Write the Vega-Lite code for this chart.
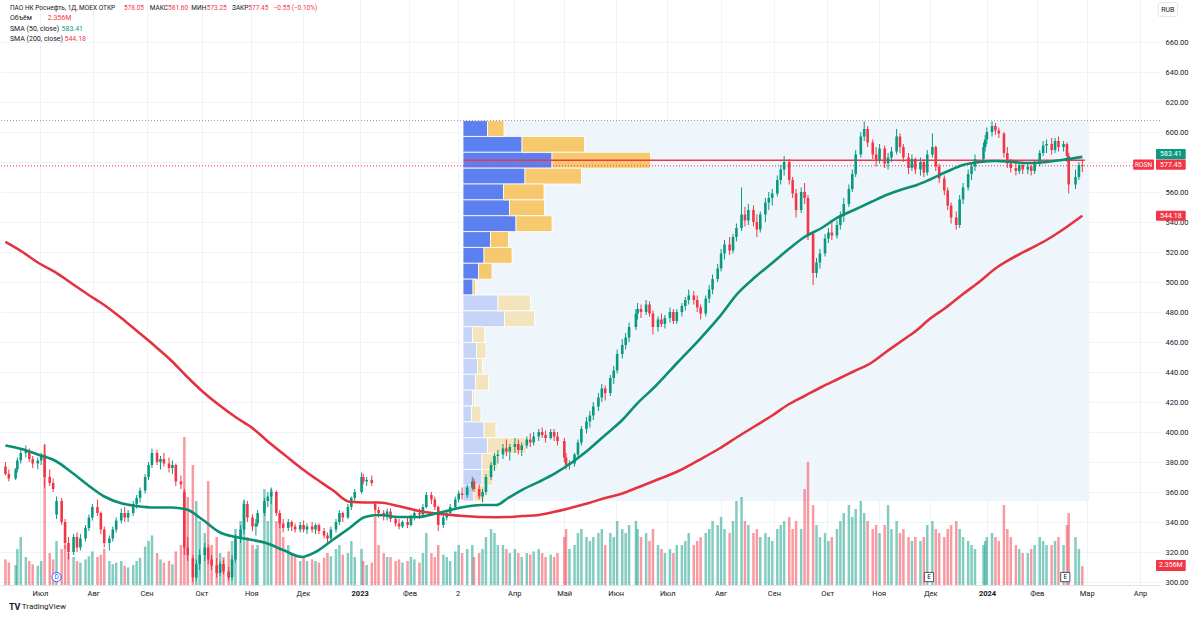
{
"$schema":"https://vega.github.io/schema/vega-lite/v6.json",
"width":1160,"height":585,
"autosize":"none",
"padding":{"left":0,"top":0,"right":40,"bottom":36},
"background":"#ffffff",
"config":{"view":{"stroke":null},"font":"Roboto","text":{"font":"Roboto"}},
"datasets":{
"candles":[
{"d":"2022-06-08","o":377,"h":380,"l":371,"c":372,"v":3.2},
{"d":"2022-06-10","o":372,"h":375,"l":367,"c":369,"v":2.8},
{"d":"2022-06-14","o":369,"h":376,"l":368,"c":375,"v":2.5},
{"d":"2022-06-15","o":375,"h":383,"l":373,"c":381,"v":4.5},
{"d":"2022-06-17","o":381,"h":389,"l":379,"c":386,"v":6.0},
{"d":"2022-06-20","o":386,"h":391,"l":383,"c":388,"v":3.5},
{"d":"2022-06-22","o":388,"h":389,"l":380,"c":382,"v":3.0},
{"d":"2022-06-24","o":382,"h":384,"l":376,"c":379,"v":2.6},
{"d":"2022-06-27","o":379,"h":383,"l":375,"c":381,"v":2.4},
{"d":"2022-06-29","o":381,"h":386,"l":378,"c":384,"v":3.0},
{"d":"2022-07-01","o":385,"h":392,"l":363,"c":370,"v":17.5},
{"d":"2022-07-04","o":370,"h":375,"l":364,"c":366,"v":4.0},
{"d":"2022-07-06","o":366,"h":369,"l":360,"c":362,"v":3.2},
{"d":"2022-07-08","o":345,"h":357,"l":342,"c":354,"v":5.5},
{"d":"2022-07-11","o":354,"h":356,"l":338,"c":340,"v":4.5},
{"d":"2022-07-13","o":340,"h":342,"l":322,"c":326,"v":5.0},
{"d":"2022-07-15","o":326,"h":330,"l":315,"c":320,"v":4.0},
{"d":"2022-07-18","o":320,"h":332,"l":318,"c":330,"v":3.5},
{"d":"2022-07-20","o":330,"h":333,"l":320,"c":323,"v":3.0},
{"d":"2022-07-22","o":323,"h":332,"l":321,"c":329,"v":2.8},
{"d":"2022-07-25","o":329,"h":338,"l":327,"c":336,"v":3.2},
{"d":"2022-07-27","o":336,"h":345,"l":334,"c":343,"v":3.6},
{"d":"2022-07-29","o":343,"h":352,"l":341,"c":350,"v":4.2},
{"d":"2022-08-01","o":350,"h":355,"l":344,"c":346,"v":3.5},
{"d":"2022-08-03","o":346,"h":347,"l":332,"c":335,"v":3.8},
{"d":"2022-08-05","o":335,"h":337,"l":323,"c":326,"v":4.5},
{"d":"2022-08-08","o":326,"h":331,"l":321,"c":329,"v":3.0},
{"d":"2022-08-10","o":329,"h":337,"l":327,"c":335,"v":2.6},
{"d":"2022-08-12","o":335,"h":343,"l":333,"c":341,"v":2.8},
{"d":"2022-08-15","o":341,"h":349,"l":339,"c":346,"v":3.0},
{"d":"2022-08-17","o":346,"h":350,"l":340,"c":343,"v":2.4},
{"d":"2022-08-19","o":343,"h":348,"l":340,"c":346,"v":2.2},
{"d":"2022-08-22","o":346,"h":354,"l":344,"c":352,"v":2.5},
{"d":"2022-08-24","o":352,"h":358,"l":349,"c":356,"v":3.0},
{"d":"2022-08-26","o":356,"h":363,"l":353,"c":361,"v":3.4},
{"d":"2022-08-29","o":361,"h":372,"l":359,"c":370,"v":4.8},
{"d":"2022-08-31","o":370,"h":380,"l":368,"c":378,"v":5.5},
{"d":"2022-09-02","o":378,"h":389,"l":376,"c":386,"v":6.2},
{"d":"2022-09-05","o":386,"h":388,"l":378,"c":380,"v":4.0},
{"d":"2022-09-07","o":380,"h":384,"l":375,"c":382,"v":3.2},
{"d":"2022-09-09","o":382,"h":386,"l":377,"c":379,"v":2.8},
{"d":"2022-09-12","o":379,"h":383,"l":373,"c":376,"v":3.0},
{"d":"2022-09-14","o":376,"h":381,"l":372,"c":378,"v":2.6},
{"d":"2022-09-16","o":378,"h":379,"l":364,"c":367,"v":4.2},
{"d":"2022-09-19","o":367,"h":371,"l":362,"c":365,"v":5.0},
{"d":"2022-09-21","o":360,"h":362,"l":318,"c":323,"v":18.5},
{"d":"2022-09-23","o":323,"h":330,"l":314,"c":318,"v":11.0},
{"d":"2022-09-26","o":316,"h":318,"l":300,"c":303,"v":15.0},
{"d":"2022-09-28","o":303,"h":315,"l":301,"c":312,"v":10.5},
{"d":"2022-09-30","o":312,"h":322,"l":308,"c":318,"v":8.0},
{"d":"2022-10-03","o":318,"h":326,"l":314,"c":323,"v":6.5},
{"d":"2022-10-05","o":323,"h":325,"l":312,"c":315,"v":13.0},
{"d":"2022-10-07","o":315,"h":318,"l":308,"c":311,"v":5.0},
{"d":"2022-10-10","o":311,"h":316,"l":303,"c":306,"v":6.0},
{"d":"2022-10-12","o":306,"h":314,"l":304,"c":312,"v":4.0},
{"d":"2022-10-14","o":312,"h":315,"l":305,"c":307,"v":3.5},
{"d":"2022-10-17","o":307,"h":310,"l":301,"c":303,"v":4.2},
{"d":"2022-10-19","o":303,"h":318,"l":301,"c":315,"v":5.5},
{"d":"2022-10-21","o":315,"h":332,"l":313,"c":329,"v":7.0},
{"d":"2022-10-24","o":329,"h":338,"l":326,"c":335,"v":8.0},
{"d":"2022-10-26","o":335,"h":355,"l":332,"c":352,"v":10.5},
{"d":"2022-10-28","o":352,"h":354,"l":340,"c":343,"v":6.0},
{"d":"2022-10-31","o":343,"h":345,"l":334,"c":337,"v":5.0},
{"d":"2022-11-02","o":337,"h":342,"l":331,"c":339,"v":4.5},
{"d":"2022-11-03","o":339,"h":348,"l":337,"c":346,"v":5.0},
{"d":"2022-11-07","o":346,"h":356,"l":344,"c":354,"v":12.0},
{"d":"2022-11-09","o":354,"h":360,"l":350,"c":357,"v":8.0},
{"d":"2022-11-11","o":357,"h":363,"l":352,"c":360,"v":12.0},
{"d":"2022-11-14","o":360,"h":361,"l":344,"c":346,"v":8.0},
{"d":"2022-11-16","o":346,"h":348,"l":336,"c":339,"v":9.0},
{"d":"2022-11-18","o":339,"h":342,"l":333,"c":336,"v":6.0},
{"d":"2022-11-21","o":336,"h":342,"l":334,"c":340,"v":5.0},
{"d":"2022-11-23","o":340,"h":341,"l":334,"c":337,"v":4.0},
{"d":"2022-11-25","o":337,"h":339,"l":333,"c":335,"v":3.5},
{"d":"2022-11-28","o":335,"h":340,"l":333,"c":338,"v":3.0},
{"d":"2022-11-30","o":338,"h":341,"l":333,"c":335,"v":3.6},
{"d":"2022-12-02","o":335,"h":339,"l":332,"c":337,"v":3.0},
{"d":"2022-12-05","o":337,"h":340,"l":333,"c":335,"v":3.2},
{"d":"2022-12-07","o":335,"h":339,"l":332,"c":338,"v":3.0},
{"d":"2022-12-09","o":338,"h":339,"l":332,"c":334,"v":2.8},
{"d":"2022-12-12","o":334,"h":336,"l":329,"c":331,"v":3.4},
{"d":"2022-12-14","o":331,"h":333,"l":326,"c":329,"v":4.0},
{"d":"2022-12-16","o":329,"h":337,"l":327,"c":335,"v":3.6},
{"d":"2022-12-19","o":335,"h":342,"l":333,"c":340,"v":4.5},
{"d":"2022-12-21","o":340,"h":348,"l":338,"c":346,"v":5.0},
{"d":"2022-12-23","o":346,"h":347,"l":340,"c":343,"v":3.8},
{"d":"2022-12-26","o":343,"h":352,"l":342,"c":350,"v":4.0},
{"d":"2022-12-28","o":350,"h":357,"l":348,"c":356,"v":5.5},
{"d":"2022-12-30","o":356,"h":362,"l":354,"c":360,"v":3.5},
{"d":"2023-01-03","o":360,"h":373,"l":359,"c":370,"v":4.5},
{"d":"2023-01-04","o":370,"h":372,"l":365,"c":367,"v":3.0},
{"d":"2023-01-06","o":367,"h":370,"l":364,"c":368,"v":2.5},
{"d":"2023-01-09","o":368,"h":371,"l":364,"c":366,"v":2.8},
{"d":"2023-01-11","o":352,"h":353,"l":345,"c":348,"v":8.5},
{"d":"2023-01-13","o":348,"h":350,"l":343,"c":346,"v":5.0},
{"d":"2023-01-16","o":346,"h":348,"l":341,"c":344,"v":4.0},
{"d":"2023-01-18","o":344,"h":349,"l":341,"c":347,"v":3.5},
{"d":"2023-01-20","o":347,"h":349,"l":340,"c":342,"v":3.5},
{"d":"2023-01-23","o":342,"h":344,"l":337,"c":339,"v":3.0},
{"d":"2023-01-25","o":339,"h":342,"l":335,"c":337,"v":3.2},
{"d":"2023-01-27","o":337,"h":341,"l":336,"c":340,"v":2.8},
{"d":"2023-01-30","o":340,"h":343,"l":336,"c":338,"v":3.0},
{"d":"2023-02-01","o":338,"h":345,"l":337,"c":343,"v":3.5},
{"d":"2023-02-03","o":343,"h":348,"l":341,"c":346,"v":3.2},
{"d":"2023-02-06","o":346,"h":349,"l":342,"c":345,"v":2.8},
{"d":"2023-02-08","o":345,"h":352,"l":344,"c":350,"v":4.0},
{"d":"2023-02-10","o":350,"h":360,"l":349,"c":358,"v":6.5},
{"d":"2023-02-13","o":358,"h":360,"l":352,"c":355,"v":4.0},
{"d":"2023-02-15","o":355,"h":357,"l":348,"c":350,"v":3.5},
{"d":"2023-02-17","o":350,"h":351,"l":334,"c":338,"v":5.0},
{"d":"2023-02-20","o":338,"h":345,"l":336,"c":343,"v":3.8},
{"d":"2023-02-22","o":343,"h":348,"l":341,"c":346,"v":3.5},
{"d":"2023-02-24","o":346,"h":352,"l":344,"c":350,"v":3.0},
{"d":"2023-02-27","o":350,"h":357,"l":348,"c":355,"v":4.2},
{"d":"2023-03-01","o":355,"h":361,"l":353,"c":359,"v":5.0},
{"d":"2023-03-03","o":359,"h":363,"l":355,"c":358,"v":4.0},
{"d":"2023-03-06","o":358,"h":365,"l":356,"c":363,"v":4.5},
{"d":"2023-03-09","o":363,"h":370,"l":361,"c":367,"v":5.0},
{"d":"2023-03-10","o":367,"h":369,"l":360,"c":362,"v":3.5},
{"d":"2023-03-13","o":362,"h":365,"l":355,"c":357,"v":4.0},
{"d":"2023-03-15","o":357,"h":362,"l":353,"c":360,"v":4.5},
{"d":"2023-03-17","o":360,"h":372,"l":358,"c":370,"v":6.0},
{"d":"2023-03-20","o":370,"h":380,"l":368,"c":378,"v":7.0},
{"d":"2023-03-22","o":378,"h":386,"l":374,"c":384,"v":6.5},
{"d":"2023-03-24","o":384,"h":388,"l":379,"c":385,"v":5.0},
{"d":"2023-03-27","o":385,"h":392,"l":382,"c":389,"v":5.0},
{"d":"2023-03-29","o":389,"h":395,"l":384,"c":387,"v":4.5},
{"d":"2023-03-31","o":387,"h":392,"l":381,"c":390,"v":4.0},
{"d":"2023-04-03","o":390,"h":396,"l":386,"c":392,"v":4.5},
{"d":"2023-04-05","o":392,"h":395,"l":385,"c":388,"v":4.0},
{"d":"2023-04-07","o":388,"h":393,"l":384,"c":391,"v":3.5},
{"d":"2023-04-10","o":391,"h":397,"l":389,"c":395,"v":4.0},
{"d":"2023-04-12","o":395,"h":399,"l":390,"c":393,"v":3.8},
{"d":"2023-04-14","o":393,"h":400,"l":391,"c":397,"v":4.2},
{"d":"2023-04-17","o":397,"h":402,"l":394,"c":400,"v":4.5},
{"d":"2023-04-19","o":400,"h":403,"l":396,"c":398,"v":4.0},
{"d":"2023-04-21","o":398,"h":401,"l":393,"c":396,"v":3.5},
{"d":"2023-04-24","o":396,"h":402,"l":395,"c":400,"v":3.8},
{"d":"2023-04-26","o":400,"h":402,"l":394,"c":397,"v":3.5},
{"d":"2023-04-28","o":397,"h":400,"l":391,"c":394,"v":4.0},
{"d":"2023-05-02","o":394,"h":396,"l":380,"c":383,"v":6.0},
{"d":"2023-05-03","o":383,"h":386,"l":375,"c":378,"v":7.0},
{"d":"2023-05-05","o":378,"h":381,"l":375,"c":379,"v":4.5},
{"d":"2023-05-08","o":379,"h":386,"l":377,"c":385,"v":5.0},
{"d":"2023-05-10","o":385,"h":395,"l":383,"c":393,"v":6.5},
{"d":"2023-05-12","o":393,"h":404,"l":391,"c":402,"v":7.0},
{"d":"2023-05-15","o":402,"h":410,"l":399,"c":407,"v":6.0},
{"d":"2023-05-17","o":407,"h":414,"l":403,"c":411,"v":5.5},
{"d":"2023-05-19","o":411,"h":420,"l":408,"c":417,"v":6.0},
{"d":"2023-05-22","o":417,"h":426,"l":414,"c":423,"v":6.5},
{"d":"2023-05-24","o":423,"h":432,"l":420,"c":429,"v":7.0},
{"d":"2023-05-26","o":429,"h":431,"l":421,"c":426,"v":5.0},
{"d":"2023-05-29","o":426,"h":438,"l":424,"c":436,"v":6.5},
{"d":"2023-05-31","o":436,"h":444,"l":432,"c":441,"v":6.0},
{"d":"2023-06-02","o":441,"h":455,"l":439,"c":452,"v":8.0},
{"d":"2023-06-05","o":452,"h":462,"l":449,"c":458,"v":7.0},
{"d":"2023-06-07","o":458,"h":466,"l":455,"c":463,"v":6.5},
{"d":"2023-06-09","o":463,"h":473,"l":460,"c":470,"v":7.5},
{"d":"2023-06-13","o":470,"h":482,"l":468,"c":479,"v":8.0},
{"d":"2023-06-14","o":479,"h":486,"l":475,"c":482,"v":7.0},
{"d":"2023-06-16","o":482,"h":485,"l":476,"c":480,"v":6.0},
{"d":"2023-06-19","o":480,"h":488,"l":478,"c":485,"v":6.5},
{"d":"2023-06-21","o":485,"h":487,"l":477,"c":479,"v":5.5},
{"d":"2023-06-23","o":479,"h":481,"l":465,"c":470,"v":7.0},
{"d":"2023-06-26","o":470,"h":477,"l":467,"c":475,"v":5.0},
{"d":"2023-06-28","o":475,"h":479,"l":470,"c":472,"v":4.5},
{"d":"2023-06-30","o":472,"h":478,"l":469,"c":476,"v":4.0},
{"d":"2023-07-03","o":476,"h":483,"l":473,"c":480,"v":4.5},
{"d":"2023-07-05","o":480,"h":482,"l":472,"c":474,"v":4.0},
{"d":"2023-07-07","o":474,"h":482,"l":472,"c":480,"v":5.0},
{"d":"2023-07-10","o":480,"h":486,"l":477,"c":484,"v":5.0},
{"d":"2023-07-12","o":484,"h":490,"l":481,"c":488,"v":5.5},
{"d":"2023-07-14","o":488,"h":495,"l":485,"c":491,"v":6.5},
{"d":"2023-07-17","o":491,"h":494,"l":485,"c":488,"v":5.0},
{"d":"2023-07-19","o":488,"h":491,"l":480,"c":483,"v":5.5},
{"d":"2023-07-21","o":483,"h":485,"l":475,"c":479,"v":6.0},
{"d":"2023-07-24","o":479,"h":491,"l":477,"c":489,"v":6.5},
{"d":"2023-07-26","o":489,"h":498,"l":486,"c":495,"v":7.0},
{"d":"2023-07-28","o":495,"h":505,"l":492,"c":502,"v":8.0},
{"d":"2023-07-31","o":502,"h":512,"l":500,"c":509,"v":7.5},
{"d":"2023-08-02","o":509,"h":522,"l":507,"c":519,"v":8.5},
{"d":"2023-08-04","o":519,"h":528,"l":515,"c":525,"v":7.0},
{"d":"2023-08-07","o":525,"h":530,"l":518,"c":521,"v":6.5},
{"d":"2023-08-09","o":521,"h":532,"l":519,"c":530,"v":8.0},
{"d":"2023-08-11","o":530,"h":539,"l":527,"c":536,"v":10.5},
{"d":"2023-08-14","o":536,"h":563,"l":534,"c":545,"v":11.0},
{"d":"2023-08-16","o":545,"h":550,"l":537,"c":541,"v":8.0},
{"d":"2023-08-18","o":541,"h":552,"l":538,"c":548,"v":7.5},
{"d":"2023-08-21","o":548,"h":551,"l":537,"c":540,"v":6.5},
{"d":"2023-08-23","o":540,"h":545,"l":530,"c":535,"v":7.0},
{"d":"2023-08-25","o":535,"h":547,"l":533,"c":545,"v":6.0},
{"d":"2023-08-28","o":545,"h":556,"l":540,"c":553,"v":6.5},
{"d":"2023-08-30","o":553,"h":560,"l":548,"c":556,"v":6.0},
{"d":"2023-09-01","o":556,"h":562,"l":551,"c":559,"v":5.5},
{"d":"2023-09-04","o":559,"h":571,"l":557,"c":568,"v":7.0},
{"d":"2023-09-06","o":568,"h":578,"l":565,"c":575,"v":7.5},
{"d":"2023-09-08","o":575,"h":584,"l":571,"c":580,"v":8.0},
{"d":"2023-09-11","o":580,"h":582,"l":565,"c":568,"v":8.5},
{"d":"2023-09-13","o":568,"h":570,"l":556,"c":559,"v":7.0},
{"d":"2023-09-15","o":559,"h":562,"l":543,"c":548,"v":8.0},
{"d":"2023-09-18","o":548,"h":563,"l":546,"c":560,"v":7.0},
{"d":"2023-09-20","o":560,"h":566,"l":552,"c":556,"v":12.0},
{"d":"2023-09-22","o":556,"h":558,"l":528,"c":532,"v":15.4},
{"d":"2023-09-25","o":532,"h":534,"l":498,"c":506,"v":10.0},
{"d":"2023-09-27","o":506,"h":516,"l":503,"c":513,"v":7.5},
{"d":"2023-09-29","o":513,"h":522,"l":509,"c":519,"v":6.0},
{"d":"2023-10-02","o":519,"h":532,"l":517,"c":529,"v":6.5},
{"d":"2023-10-04","o":529,"h":536,"l":526,"c":533,"v":5.5},
{"d":"2023-10-06","o":533,"h":540,"l":528,"c":531,"v":6.0},
{"d":"2023-10-09","o":531,"h":541,"l":529,"c":538,"v":7.0},
{"d":"2023-10-11","o":538,"h":547,"l":535,"c":544,"v":8.0},
{"d":"2023-10-13","o":544,"h":556,"l":540,"c":552,"v":9.0},
{"d":"2023-10-16","o":552,"h":565,"l":550,"c":562,"v":10.0},
{"d":"2023-10-18","o":562,"h":575,"l":560,"c":572,"v":8.5},
{"d":"2023-10-20","o":572,"h":588,"l":570,"c":585,"v":9.5},
{"d":"2023-10-23","o":585,"h":600,"l":583,"c":597,"v":10.5},
{"d":"2023-10-25","o":597,"h":607,"l":594,"c":602,"v":9.0},
{"d":"2023-10-27","o":602,"h":604,"l":590,"c":593,"v":8.0},
{"d":"2023-10-30","o":593,"h":595,"l":582,"c":585,"v":7.0},
{"d":"2023-11-01","o":585,"h":590,"l":577,"c":581,"v":7.5},
{"d":"2023-11-03","o":581,"h":592,"l":579,"c":589,"v":6.5},
{"d":"2023-11-06","o":589,"h":591,"l":576,"c":579,"v":7.5},
{"d":"2023-11-08","o":579,"h":586,"l":575,"c":583,"v":10.0},
{"d":"2023-11-10","o":583,"h":590,"l":580,"c":587,"v":7.0},
{"d":"2023-11-13","o":587,"h":602,"l":585,"c":597,"v":8.0},
{"d":"2023-11-15","o":597,"h":599,"l":586,"c":590,"v":6.5},
{"d":"2023-11-17","o":590,"h":592,"l":580,"c":583,"v":7.0},
{"d":"2023-11-20","o":583,"h":586,"l":572,"c":576,"v":6.0},
{"d":"2023-11-22","o":576,"h":585,"l":574,"c":582,"v":5.5},
{"d":"2023-11-24","o":582,"h":583,"l":572,"c":575,"v":6.0},
{"d":"2023-11-27","o":575,"h":583,"l":571,"c":580,"v":5.5},
{"d":"2023-11-29","o":580,"h":582,"l":570,"c":573,"v":6.0},
{"d":"2023-12-01","o":573,"h":588,"l":571,"c":585,"v":7.5},
{"d":"2023-12-04","o":585,"h":599,"l":583,"c":590,"v":8.0},
{"d":"2023-12-06","o":590,"h":591,"l":574,"c":577,"v":7.0},
{"d":"2023-12-08","o":577,"h":579,"l":566,"c":569,"v":6.5},
{"d":"2023-12-11","o":569,"h":571,"l":558,"c":561,"v":6.0},
{"d":"2023-12-13","o":561,"h":563,"l":548,"c":551,"v":7.0},
{"d":"2023-12-15","o":551,"h":553,"l":539,"c":543,"v":7.5},
{"d":"2023-12-18","o":543,"h":547,"l":535,"c":538,"v":8.0},
{"d":"2023-12-20","o":538,"h":558,"l":536,"c":555,"v":7.0},
{"d":"2023-12-22","o":555,"h":566,"l":552,"c":563,"v":6.0},
{"d":"2023-12-25","o":563,"h":575,"l":561,"c":572,"v":5.5},
{"d":"2023-12-27","o":572,"h":580,"l":568,"c":577,"v":5.0},
{"d":"2023-12-29","o":577,"h":585,"l":574,"c":582,"v":4.5},
{"d":"2024-01-03","o":582,"h":593,"l":580,"c":590,"v":5.0},
{"d":"2024-01-04","o":590,"h":598,"l":587,"c":595,"v":5.5},
{"d":"2024-01-05","o":595,"h":603,"l":592,"c":600,"v":6.0},
{"d":"2024-01-08","o":600,"h":607,"l":597,"c":604,"v":6.5},
{"d":"2024-01-10","o":604,"h":606,"l":598,"c":601,"v":6.0},
{"d":"2024-01-12","o":601,"h":603,"l":596,"c":599,"v":5.5},
{"d":"2024-01-15","o":599,"h":600,"l":583,"c":586,"v":10.0},
{"d":"2024-01-17","o":586,"h":590,"l":576,"c":579,"v":7.0},
{"d":"2024-01-19","o":579,"h":582,"l":573,"c":576,"v":6.0},
{"d":"2024-01-22","o":576,"h":580,"l":571,"c":574,"v":5.0},
{"d":"2024-01-24","o":574,"h":580,"l":572,"c":578,"v":4.5},
{"d":"2024-01-26","o":578,"h":579,"l":572,"c":575,"v":4.0},
{"d":"2024-01-29","o":575,"h":579,"l":572,"c":577,"v":4.0},
{"d":"2024-01-31","o":577,"h":578,"l":571,"c":574,"v":4.5},
{"d":"2024-02-02","o":574,"h":581,"l":572,"c":579,"v":5.0},
{"d":"2024-02-05","o":579,"h":588,"l":577,"c":586,"v":6.0},
{"d":"2024-02-07","o":586,"h":594,"l":584,"c":591,"v":5.5},
{"d":"2024-02-09","o":591,"h":595,"l":586,"c":592,"v":5.0},
{"d":"2024-02-12","o":592,"h":596,"l":585,"c":588,"v":5.0},
{"d":"2024-02-14","o":588,"h":596,"l":586,"c":594,"v":5.5},
{"d":"2024-02-16","o":594,"h":597,"l":587,"c":590,"v":6.0},
{"d":"2024-02-19","o":590,"h":594,"l":587,"c":592,"v":5.0},
{"d":"2024-02-21","o":592,"h":593,"l":580,"c":584,"v":7.5},
{"d":"2024-02-22","o":584,"h":586,"l":559,"c":565,"v":9.0},
{"d":"2024-02-26","o":565,"h":575,"l":562,"c":570,"v":6.0},
{"d":"2024-02-28","o":570,"h":580,"l":568,"c":578,"v":4.5},
{"d":"2024-03-01","o":578.05,"h":581.6,"l":573.25,"c":577.45,"v":2.356}
],
"sma":[
{"d":"2022-06-08","s50":391,"s200":526.7},
{"d":"2022-06-18","s50":388.5,"s200":520},
{"d":"2022-06-27","s50":385,"s200":513},
{"d":"2022-07-07","s50":381,"s200":506.7},
{"d":"2022-07-17","s50":373,"s200":499},
{"d":"2022-07-26","s50":365,"s200":492},
{"d":"2022-08-05","s50":357,"s200":484.7},
{"d":"2022-08-15","s50":352.5,"s200":476},
{"d":"2022-08-24","s50":350.7,"s200":467.5},
{"d":"2022-09-03","s50":349.7,"s200":458},
{"d":"2022-09-13","s50":349.7,"s200":448},
{"d":"2022-09-22","s50":348.5,"s200":437.5},
{"d":"2022-10-02","s50":341.3,"s200":426.7},
{"d":"2022-10-12","s50":333,"s200":417.5},
{"d":"2022-10-21","s50":330,"s200":410},
{"d":"2022-10-31","s50":328,"s200":402.6},
{"d":"2022-11-08","s50":326,"s200":394.7},
{"d":"2022-11-18","s50":321.3,"s200":385.5},
{"d":"2022-11-29","s50":316.7,"s200":375.5},
{"d":"2022-12-07","s50":320,"s200":369},
{"d":"2022-12-17","s50":328,"s200":361.3},
{"d":"2022-12-27","s50":336,"s200":353.5},
{"d":"2023-01-05","s50":343.3,"s200":353},
{"d":"2023-01-13","s50":344.7,"s200":353},
{"d":"2023-01-25","s50":343.3,"s200":350.5},
{"d":"2023-02-05","s50":343.3,"s200":347.5},
{"d":"2023-02-17","s50":346,"s200":345.5},
{"d":"2023-03-04","s50":350,"s200":344},
{"d":"2023-03-14","s50":351.3,"s200":343.3},
{"d":"2023-03-23","s50":351.3,"s200":343.2},
{"d":"2023-03-30","s50":356,"s200":343.3},
{"d":"2023-04-07","s50":361.3,"s200":344},
{"d":"2023-04-17","s50":366.7,"s200":344.7},
{"d":"2023-04-27","s50":372.7,"s200":347},
{"d":"2023-05-06","s50":379.3,"s200":349.5},
{"d":"2023-05-16","s50":388,"s200":352.5},
{"d":"2023-05-26","s50":398,"s200":356},
{"d":"2023-06-05","s50":408,"s200":359},
{"d":"2023-06-14","s50":419.3,"s200":363},
{"d":"2023-06-24","s50":430,"s200":367.5},
{"d":"2023-07-08","s50":447,"s200":374},
{"d":"2023-07-20","s50":461.3,"s200":381.3},
{"d":"2023-08-01","s50":476.7,"s200":389},
{"d":"2023-08-12","s50":492.7,"s200":397},
{"d":"2023-08-22","s50":503.3,"s200":404},
{"d":"2023-09-01","s50":512.7,"s200":411},
{"d":"2023-09-10","s50":521.3,"s200":418},
{"d":"2023-09-20","s50":530,"s200":424},
{"d":"2023-09-30","s50":536,"s200":430},
{"d":"2023-10-09","s50":542.7,"s200":435},
{"d":"2023-10-19","s50":548,"s200":440.5},
{"d":"2023-10-29","s50":553.3,"s200":446},
{"d":"2023-11-07","s50":558,"s200":453.5},
{"d":"2023-11-17","s50":562,"s200":461.5},
{"d":"2023-11-25","s50":564.7,"s200":468},
{"d":"2023-12-02","s50":568,"s200":475},
{"d":"2023-12-12","s50":573.3,"s200":483},
{"d":"2023-12-22","s50":578,"s200":492},
{"d":"2024-01-01","s50":580,"s200":500.5},
{"d":"2024-01-10","s50":580.7,"s200":509},
{"d":"2024-01-20","s50":580,"s200":516},
{"d":"2024-01-30","s50":579.3,"s200":522},
{"d":"2024-02-09","s50":580,"s200":528},
{"d":"2024-02-18","s50":581.3,"s200":534.5},
{"d":"2024-03-01","s50":583.41,"s200":544.18}
],
"profile":[
{"lo":597.03,"hi":607.6,"up":49,"tot":82,"va":true},
{"lo":586.46,"hi":597.03,"up":118,"tot":243,"va":true},
{"lo":575.89,"hi":586.46,"up":178,"tot":375,"va":true},
{"lo":565.32,"hi":575.89,"up":124,"tot":237,"va":true},
{"lo":554.75,"hi":565.32,"up":81,"tot":162,"va":true},
{"lo":544.18,"hi":554.75,"up":93,"tot":163,"va":true},
{"lo":533.61,"hi":544.18,"up":106,"tot":178,"va":true},
{"lo":523.04,"hi":533.61,"up":55,"tot":91,"va":true},
{"lo":512.47,"hi":523.04,"up":42,"tot":98,"va":true},
{"lo":501.9,"hi":512.47,"up":31,"tot":58,"va":true},
{"lo":491.33,"hi":501.9,"up":20,"tot":25,"va":true},
{"lo":480.76,"hi":491.33,"up":70,"tot":135,"va":false},
{"lo":470.19,"hi":480.76,"up":83,"tot":143,"va":false},
{"lo":459.62,"hi":470.19,"up":19,"tot":43,"va":false},
{"lo":449.05,"hi":459.62,"up":27,"tot":46,"va":false},
{"lo":438.48,"hi":449.05,"up":29,"tot":39,"va":false},
{"lo":427.91,"hi":438.48,"up":25,"tot":51,"va":false},
{"lo":417.34,"hi":427.91,"up":19,"tot":23,"va":false},
{"lo":406.77,"hi":417.34,"up":17,"tot":36,"va":false},
{"lo":396.2,"hi":406.77,"up":42,"tot":66,"va":false},
{"lo":385.63,"hi":396.2,"up":49,"tot":127,"va":false},
{"lo":375.06,"hi":385.63,"up":38,"tot":70,"va":false},
{"lo":364.49,"hi":375.06,"up":38,"tot":60,"va":false},
{"lo":353.92,"hi":364.49,"up":22,"tot":44,"va":false}
],
"events":[
{"d":"2022-07-08","t":"D"},
{"d":"2023-12-02","t":"E"},
{"d":"2024-02-20","t":"E"}
]
},
"layer":[
{
"data":{"values":[{}]},
"mark":{"type":"rect","color":"#eef6fc"},
"encoding":{
"x":{"datum":{"year":2023,"month":3,"date":4,"utc":true},"type":"temporal",
"scale":{"type":"utc","domain":[{"year":2022,"month":6,"date":7,"hours":18,"utc":true},{"year":2024,"month":4,"date":12,"hours":15,"minutes":36,"utc":true}]},
"axis":{"title":null,"values":[
{"year":2022,"month":7,"date":1,"utc":true},{"year":2022,"month":8,"date":1,"utc":true},{"year":2022,"month":9,"date":1,"utc":true},{"year":2022,"month":10,"date":3,"utc":true},{"year":2022,"month":11,"date":1,"utc":true},{"year":2022,"month":12,"date":1,"utc":true},
{"year":2023,"month":1,"date":3,"utc":true},{"year":2023,"month":2,"date":1,"utc":true},{"year":2023,"month":3,"date":1,"utc":true},{"year":2023,"month":4,"date":3,"utc":true},{"year":2023,"month":5,"date":2,"utc":true},{"year":2023,"month":6,"date":1,"utc":true},{"year":2023,"month":7,"date":1,"utc":true},{"year":2023,"month":8,"date":1,"utc":true},{"year":2023,"month":9,"date":1,"utc":true},{"year":2023,"month":10,"date":2,"utc":true},{"year":2023,"month":11,"date":1,"utc":true},{"year":2023,"month":12,"date":1,"utc":true},
{"year":2024,"month":1,"date":3,"utc":true},{"year":2024,"month":2,"date":1,"utc":true},{"year":2024,"month":3,"date":1,"utc":true},{"year":2024,"month":4,"date":1,"utc":true}],
"labelExpr":"utcmonth(datum.value)==0 ? utcFormat(datum.value,'%Y') : ((utcyear(datum.value)==2023 && utcmonth(datum.value)==2) ? '2' : ['Янв','Фев','Мар','Апр','Май','Июн','Июл','Авг','Сен','Окт','Ноя','Дек'][utcmonth(datum.value)])",
"labelFontSize":7.5,"labelColor":"#131722","labelFont":"Roboto",
"labelFontWeight":{"condition":{"test":"utcmonth(datum.value)===0","value":"bold"},"value":"normal"},
"ticks":false,"domain":true,"domainColor":"#e0e3eb","grid":true,"gridColor":"#f0f3fa","labelPadding":4,"labelOverlap":false,"labelFlush":false}},
"x2":{"datum":{"year":2024,"month":3,"date":2,"hours":12,"utc":true}},
"y":{"datum":353.92,"type":"quantitative","scale":{"domain":[298,688],"nice":false,"zero":false},
"axis":{"title":null,"orient":"right","values":[300,320,340,360,380,400,420,440,460,480,500,520,540,560,580,600,620,640,660],"labelExpr":"datum.value == 580 ? '' : format(datum.value, '.2f')","labelFontSize":7.5,"labelColor":"#131722","labelFont":"Roboto","ticks":false,"domain":false,"grid":true,"gridColor":"#f0f3fa","labelPadding":5}},
"y2":{"datum":607.6}
}
},
{
"layer":[
{"data":{"name":"candles"},
"mark":{"type":"bar","size":2.5,"opacity":0.5},
"encoding":{
"x":{"field":"d","type":"temporal","scale":{"type":"utc","domain":[{"year":2022,"month":6,"date":7,"hours":18,"utc":true},{"year":2024,"month":4,"date":12,"hours":15,"minutes":36,"utc":true}]},"axis":null},
"y":{"field":"v","type":"quantitative","scale":{"domain":[0,73.125],"nice":false,"zero":true},"axis":null},
"color":{"condition":{"test":"datum.c >= datum.o","value":"#089981"},"value":"#f23645"}}},
{"data":{"values":[{}]},
"mark":{"type":"rect","color":"#f23645","cornerRadius":1},
"encoding":{
"x":{"datum":{"year":2024,"month":4,"date":13,"hours":5,"minutes":36,"utc":true},"type":"temporal","scale":{"type":"utc","domain":[{"year":2022,"month":6,"date":7,"hours":18,"utc":true},{"year":2024,"month":4,"date":12,"hours":15,"minutes":36,"utc":true}]},"axis":null},
"x2":{"datum":{"year":2024,"month":4,"date":30,"hours":16,"minutes":30,"utc":true}},
"y":{"datum":1.75,"type":"quantitative","scale":{"domain":[0,73.125],"nice":false,"zero":true},"axis":null},
"y2":{"datum":3.125}}},
{"data":{"values":[{}]},
"mark":{"type":"text","color":"#ffffff","fontSize":7,"align":"center","baseline":"middle","font":"Roboto"},
"encoding":{
"x":{"datum":{"year":2024,"month":4,"date":21,"hours":23,"utc":true},"type":"temporal","scale":{"type":"utc","domain":[{"year":2022,"month":6,"date":7,"hours":18,"utc":true},{"year":2024,"month":4,"date":12,"hours":15,"minutes":36,"utc":true}]},"axis":null},
"y":{"datum":2.44,"type":"quantitative","scale":{"domain":[0,73.125],"nice":false,"zero":true},"axis":null},
"text":{"value":"2.356M"}}}
]
},
{
"data":{"name":"profile"},
"layer":[
{"mark":{"type":"bar","stroke":"#ffffff","strokeWidth":0.8},
"encoding":{
"x":{"field":"up","type":"quantitative","scale":{"domain":[-926,1394],"nice":false,"zero":false},"axis":null},
"x2":{"datum":0},
"y":{"field":"lo","type":"quantitative","scale":{"domain":[298,688],"nice":false,"zero":false},"axis":null},
"y2":{"field":"hi"},
"color":{"condition":{"test":"datum.va","value":"#5d80f0"},"value":"#c6d4f8"}}},
{"mark":{"type":"bar","stroke":"#ffffff","strokeWidth":0.8},
"encoding":{
"x":{"field":"up","type":"quantitative","scale":{"domain":[-926,1394],"nice":false,"zero":false},"axis":null},
"x2":{"field":"tot"},
"y":{"field":"lo","type":"quantitative","scale":{"domain":[298,688],"nice":false,"zero":false},"axis":null},
"y2":{"field":"hi"},
"color":{"condition":{"test":"datum.va","value":"#f6c96e"},"value":"#f4e4be"}}}
]
},
{
"layer":[
{"data":{"values":[{}]},
"mark":{"type":"rule","color":"#f23645","strokeWidth":1.5},
"encoding":{
"x":{"datum":{"year":2023,"month":3,"date":4,"utc":true},"type":"temporal","scale":{"type":"utc","domain":[{"year":2022,"month":6,"date":7,"hours":18,"utc":true},{"year":2024,"month":4,"date":12,"hours":15,"minutes":36,"utc":true}]},"axis":null},
"x2":{"datum":{"year":2024,"month":3,"date":2,"hours":12,"utc":true}},
"y":{"datum":581.2,"type":"quantitative","scale":{"domain":[298,688],"nice":false,"zero":false},"axis":null}}},
{"data":{"values":[{}]},
"mark":{"type":"rule","color":"#9598a1","strokeWidth":1,"strokeDash":[1,2]},
"encoding":{"y":{"datum":607.6,"type":"quantitative","scale":{"domain":[298,688],"nice":false,"zero":false},"axis":null}}},
{"data":{"values":[{}]},
"mark":{"type":"rule","color":"#f23645","strokeWidth":1,"strokeDash":[1,2]},
"encoding":{"y":{"datum":577.45,"type":"quantitative","scale":{"domain":[298,688],"nice":false,"zero":false},"axis":null}}},
{"data":{"name":"candles"},
"mark":{"type":"rule","strokeWidth":1},
"encoding":{
"x":{"field":"d","type":"temporal","scale":{"type":"utc","domain":[{"year":2022,"month":6,"date":7,"hours":18,"utc":true},{"year":2024,"month":4,"date":12,"hours":15,"minutes":36,"utc":true}]},"axis":null},
"y":{"field":"l","type":"quantitative","scale":{"domain":[298,688],"nice":false,"zero":false},"axis":null},
"y2":{"field":"h"},
"color":{"condition":{"test":"datum.c >= datum.o","value":"#089981"},"value":"#f23645"}}},
{"data":{"name":"candles"},
"mark":{"type":"bar","size":2.6},
"encoding":{
"x":{"field":"d","type":"temporal","scale":{"type":"utc","domain":[{"year":2022,"month":6,"date":7,"hours":18,"utc":true},{"year":2024,"month":4,"date":12,"hours":15,"minutes":36,"utc":true}]},"axis":null},
"y":{"field":"o","type":"quantitative","scale":{"domain":[298,688],"nice":false,"zero":false},"axis":null},
"y2":{"field":"c"},
"color":{"condition":{"test":"datum.c >= datum.o","value":"#089981"},"value":"#f23645"}}},
{"data":{"name":"sma"},
"mark":{"type":"line","color":"#e5323f","strokeWidth":2.6,"interpolate":"monotone"},
"encoding":{
"x":{"field":"d","type":"temporal","scale":{"type":"utc","domain":[{"year":2022,"month":6,"date":7,"hours":18,"utc":true},{"year":2024,"month":4,"date":12,"hours":15,"minutes":36,"utc":true}]},"axis":null},
"y":{"field":"s200","type":"quantitative","scale":{"domain":[298,688],"nice":false,"zero":false},"axis":null}}},
{"data":{"name":"sma"},
"mark":{"type":"line","color":"#0b8f72","strokeWidth":2.6,"interpolate":"monotone"},
"encoding":{
"x":{"field":"d","type":"temporal","scale":{"type":"utc","domain":[{"year":2022,"month":6,"date":7,"hours":18,"utc":true},{"year":2024,"month":4,"date":12,"hours":15,"minutes":36,"utc":true}]},"axis":null},
"y":{"field":"s50","type":"quantitative","scale":{"domain":[298,688],"nice":false,"zero":false},"axis":null}}},
{"data":{"name":"events"},
"mark":{"type":"point","filled":true,"fill":"#ffffff","strokeWidth":1,"size":85,"opacity":1},
"encoding":{
"x":{"field":"d","type":"temporal","scale":{"type":"utc","domain":[{"year":2022,"month":6,"date":7,"hours":18,"utc":true},{"year":2024,"month":4,"date":12,"hours":15,"minutes":36,"utc":true}]},"axis":null},
"y":{"datum":303.3,"type":"quantitative","scale":{"domain":[298,688],"nice":false,"zero":false},"axis":null},
"shape":{"field":"t","type":"nominal","scale":{"domain":["D","E"],"range":["circle","square"]},"legend":null},
"stroke":{"field":"t","type":"nominal","scale":{"domain":["D","E"],"range":["#2962ff","#50535e"]},"legend":null}}},
{"data":{"name":"events"},
"mark":{"type":"text","fontSize":6.5,"align":"center","baseline":"middle","font":"Roboto"},
"encoding":{
"x":{"field":"d","type":"temporal","scale":{"type":"utc","domain":[{"year":2022,"month":6,"date":7,"hours":18,"utc":true},{"year":2024,"month":4,"date":12,"hours":15,"minutes":36,"utc":true}]},"axis":null},
"y":{"datum":303.3,"type":"quantitative","scale":{"domain":[298,688],"nice":false,"zero":false},"axis":null},
"text":{"field":"t"},
"color":{"field":"t","type":"nominal","scale":{"domain":["D","E"],"range":["#2962ff","#131722"]},"legend":null}}},
{"data":{"values":[{}]},
"layer":[
{"mark":{"type":"rect","color":"#089981","cornerRadius":1},
"encoding":{"x":{"datum":{"year":2024,"month":4,"date":13,"hours":5,"minutes":36,"utc":true},"type":"temporal","scale":{"type":"utc","domain":[{"year":2022,"month":6,"date":7,"hours":18,"utc":true},{"year":2024,"month":4,"date":12,"hours":15,"minutes":36,"utc":true}]},"axis":null},
"x2":{"datum":{"year":2024,"month":4,"date":30,"hours":16,"minutes":30,"utc":true}},
"y":{"datum":581.9,"type":"quantitative","scale":{"domain":[298,688],"nice":false,"zero":false},"axis":null},"y2":{"datum":588.6}}},
{"mark":{"type":"rect","color":"#f23645","cornerRadius":1},
"encoding":{"x":{"datum":{"year":2024,"month":4,"date":13,"hours":5,"minutes":36,"utc":true},"type":"temporal","scale":{"type":"utc","domain":[{"year":2022,"month":6,"date":7,"hours":18,"utc":true},{"year":2024,"month":4,"date":12,"hours":15,"minutes":36,"utc":true}]},"axis":null},
"x2":{"datum":{"year":2024,"month":4,"date":30,"hours":16,"minutes":30,"utc":true}},
"y":{"datum":574.9,"type":"quantitative","scale":{"domain":[298,688],"nice":false,"zero":false},"axis":null},"y2":{"datum":581.6}}},
{"mark":{"type":"rect","color":"#f23645","cornerRadius":1},
"encoding":{"x":{"datum":{"year":2024,"month":3,"date":30,"hours":20,"minutes":24,"utc":true},"type":"temporal","scale":{"type":"utc","domain":[{"year":2022,"month":6,"date":7,"hours":18,"utc":true},{"year":2024,"month":4,"date":12,"hours":15,"minutes":36,"utc":true}]},"axis":null},
"x2":{"datum":{"year":2024,"month":4,"date":12,"hours":1,"minutes":36,"utc":true}},
"y":{"datum":574.9,"type":"quantitative","scale":{"domain":[298,688],"nice":false,"zero":false},"axis":null},"y2":{"datum":581.6}}},
{"mark":{"type":"rect","color":"#f23645","cornerRadius":1},
"encoding":{"x":{"datum":{"year":2024,"month":4,"date":13,"hours":5,"minutes":36,"utc":true},"type":"temporal","scale":{"type":"utc","domain":[{"year":2022,"month":6,"date":7,"hours":18,"utc":true},{"year":2024,"month":4,"date":12,"hours":15,"minutes":36,"utc":true}]},"axis":null},
"x2":{"datum":{"year":2024,"month":4,"date":30,"hours":16,"minutes":30,"utc":true}},
"y":{"datum":540.8,"type":"quantitative","scale":{"domain":[298,688],"nice":false,"zero":false},"axis":null},"y2":{"datum":547.5}}},
{"mark":{"type":"rect","fill":"#ffffff","stroke":"#e0e3eb","strokeWidth":1,"cornerRadius":2},
"encoding":{"x":{"datum":{"year":2024,"month":4,"date":14,"hours":13,"minutes":36,"utc":true},"type":"temporal","scale":{"type":"utc","domain":[{"year":2022,"month":6,"date":7,"hours":18,"utc":true},{"year":2024,"month":4,"date":12,"hours":15,"minutes":36,"utc":true}]},"axis":null},
"x2":{"datum":{"year":2024,"month":4,"date":25,"hours":20,"minutes":36,"utc":true}},
"y":{"datum":676.9,"type":"quantitative","scale":{"domain":[298,688],"nice":false,"zero":false},"axis":null},"y2":{"datum":686.2}}},
{"mark":{"type":"text","color":"#ffffff","fontSize":7,"align":"center","baseline":"middle","font":"Roboto"},
"encoding":{"x":{"datum":{"year":2024,"month":4,"date":21,"hours":23,"utc":true},"type":"temporal","scale":{"type":"utc","domain":[{"year":2022,"month":6,"date":7,"hours":18,"utc":true},{"year":2024,"month":4,"date":12,"hours":15,"minutes":36,"utc":true}]},"axis":null},
"y":{"datum":585.25,"type":"quantitative","scale":{"domain":[298,688],"nice":false,"zero":false},"axis":null},"text":{"value":"583.41"}}},
{"mark":{"type":"text","color":"#ffffff","fontSize":7,"align":"center","baseline":"middle","font":"Roboto"},
"encoding":{"x":{"datum":{"year":2024,"month":4,"date":21,"hours":23,"utc":true},"type":"temporal","scale":{"type":"utc","domain":[{"year":2022,"month":6,"date":7,"hours":18,"utc":true},{"year":2024,"month":4,"date":12,"hours":15,"minutes":36,"utc":true}]},"axis":null},
"y":{"datum":578.25,"type":"quantitative","scale":{"domain":[298,688],"nice":false,"zero":false},"axis":null},"text":{"value":"577.45"}}},
{"mark":{"type":"text","color":"#ffffff","fontSize":6.5,"align":"center","baseline":"middle","font":"Roboto"},
"encoding":{"x":{"datum":{"year":2024,"month":4,"date":5,"hours":23,"utc":true},"type":"temporal","scale":{"type":"utc","domain":[{"year":2022,"month":6,"date":7,"hours":18,"utc":true},{"year":2024,"month":4,"date":12,"hours":15,"minutes":36,"utc":true}]},"axis":null},
"y":{"datum":578.25,"type":"quantitative","scale":{"domain":[298,688],"nice":false,"zero":false},"axis":null},"text":{"value":"ROSN"}}},
{"mark":{"type":"text","color":"#ffffff","fontSize":7,"align":"center","baseline":"middle","font":"Roboto"},
"encoding":{"x":{"datum":{"year":2024,"month":4,"date":21,"hours":23,"utc":true},"type":"temporal","scale":{"type":"utc","domain":[{"year":2022,"month":6,"date":7,"hours":18,"utc":true},{"year":2024,"month":4,"date":12,"hours":15,"minutes":36,"utc":true}]},"axis":null},
"y":{"datum":544.15,"type":"quantitative","scale":{"domain":[298,688],"nice":false,"zero":false},"axis":null},"text":{"value":"544.18"}}},
{"mark":{"type":"text","color":"#131722","fontSize":7,"align":"center","baseline":"middle","font":"Roboto"},
"encoding":{"x":{"datum":{"year":2024,"month":4,"date":20,"hours":5,"utc":true},"type":"temporal","scale":{"type":"utc","domain":[{"year":2022,"month":6,"date":7,"hours":18,"utc":true},{"year":2024,"month":4,"date":12,"hours":15,"minutes":36,"utc":true}]},"axis":null},
"y":{"datum":681.5,"type":"quantitative","scale":{"domain":[298,688],"nice":false,"zero":false},"axis":null},"text":{"value":"RUB"}}},
{"mark":{"type":"text","color":"#131722","fontSize":6.5,"align":"left","baseline":"middle","font":"Roboto"},
"encoding":{"x":{"datum":{"year":2022,"month":6,"date":10,"hours":15,"minutes":48,"utc":true},"type":"temporal","scale":{"type":"utc","domain":[{"year":2022,"month":6,"date":7,"hours":18,"utc":true},{"year":2024,"month":4,"date":12,"hours":15,"minutes":36,"utc":true}]},"axis":null},
"y":{"datum":683,"type":"quantitative","scale":{"domain":[298,688],"nice":false,"zero":false},"axis":null},"text":{"value":"ПАО НК Роснефть, 1Д, MOEX  ОТКР"}}},
{"mark":{"type":"text","color":"#f23645","fontSize":6.5,"align":"left","baseline":"middle","font":"Roboto"},
"encoding":{"x":{"datum":{"year":2022,"month":8,"date":16,"hours":13,"minutes":36,"utc":true},"type":"temporal","scale":{"type":"utc","domain":[{"year":2022,"month":6,"date":7,"hours":18,"utc":true},{"year":2024,"month":4,"date":12,"hours":15,"minutes":36,"utc":true}]},"axis":null},
"y":{"datum":683,"type":"quantitative","scale":{"domain":[298,688],"nice":false,"zero":false},"axis":null},"text":{"value":"578.05"}}},
{"mark":{"type":"text","color":"#131722","fontSize":6.5,"align":"left","baseline":"middle","font":"Roboto"},
"encoding":{"x":{"datum":{"year":2022,"month":8,"date":31,"hours":16,"minutes":36,"utc":true},"type":"temporal","scale":{"type":"utc","domain":[{"year":2022,"month":6,"date":7,"hours":18,"utc":true},{"year":2024,"month":4,"date":12,"hours":15,"minutes":36,"utc":true}]},"axis":null},
"y":{"datum":683,"type":"quantitative","scale":{"domain":[298,688],"nice":false,"zero":false},"axis":null},"text":{"value":"МАКС"}}},
{"mark":{"type":"text","color":"#f23645","fontSize":6.5,"align":"left","baseline":"middle","font":"Roboto"},
"encoding":{"x":{"datum":{"year":2022,"month":9,"date":11,"hours":10,"minutes":54,"utc":true},"type":"temporal","scale":{"type":"utc","domain":[{"year":2022,"month":6,"date":7,"hours":18,"utc":true},{"year":2024,"month":4,"date":12,"hours":15,"minutes":36,"utc":true}]},"axis":null},
"y":{"datum":683,"type":"quantitative","scale":{"domain":[298,688],"nice":false,"zero":false},"axis":null},"text":{"value":"581.60"}}},
{"mark":{"type":"text","color":"#131722","fontSize":6.5,"align":"left","baseline":"middle","font":"Roboto"},
"encoding":{"x":{"datum":{"year":2022,"month":9,"date":25,"hours":3,"utc":true},"type":"temporal","scale":{"type":"utc","domain":[{"year":2022,"month":6,"date":7,"hours":18,"utc":true},{"year":2024,"month":4,"date":12,"hours":15,"minutes":36,"utc":true}]},"axis":null},
"y":{"datum":683,"type":"quantitative","scale":{"domain":[298,688],"nice":false,"zero":false},"axis":null},"text":{"value":"МИН"}}},
{"mark":{"type":"text","color":"#f23645","fontSize":6.5,"align":"left","baseline":"middle","font":"Roboto"},
"encoding":{"x":{"datum":{"year":2022,"month":10,"date":4,"hours":3,"minutes":30,"utc":true},"type":"temporal","scale":{"type":"utc","domain":[{"year":2022,"month":6,"date":7,"hours":18,"utc":true},{"year":2024,"month":4,"date":12,"hours":15,"minutes":36,"utc":true}]},"axis":null},
"y":{"datum":683,"type":"quantitative","scale":{"domain":[298,688],"nice":false,"zero":false},"axis":null},"text":{"value":"573.25"}}},
{"mark":{"type":"text","color":"#131722","fontSize":6.5,"align":"left","baseline":"middle","font":"Roboto"},
"encoding":{"x":{"datum":{"year":2022,"month":10,"date":18,"hours":23,"minutes":30,"utc":true},"type":"temporal","scale":{"type":"utc","domain":[{"year":2022,"month":6,"date":7,"hours":18,"utc":true},{"year":2024,"month":4,"date":12,"hours":15,"minutes":36,"utc":true}]},"axis":null},
"y":{"datum":683,"type":"quantitative","scale":{"domain":[298,688],"nice":false,"zero":false},"axis":null},"text":{"value":"ЗАКР"}}},
{"mark":{"type":"text","color":"#f23645","fontSize":6.5,"align":"left","baseline":"middle","font":"Roboto"},
"encoding":{"x":{"datum":{"year":2022,"month":10,"date":28,"hours":13,"minutes":54,"utc":true},"type":"temporal","scale":{"type":"utc","domain":[{"year":2022,"month":6,"date":7,"hours":18,"utc":true},{"year":2024,"month":4,"date":12,"hours":15,"minutes":36,"utc":true}]},"axis":null},
"y":{"datum":683,"type":"quantitative","scale":{"domain":[298,688],"nice":false,"zero":false},"axis":null},"text":{"value":"577.45"}}},
{"mark":{"type":"text","color":"#f23645","fontSize":6.5,"align":"left","baseline":"middle","font":"Roboto"},
"encoding":{"x":{"datum":{"year":2022,"month":11,"date":12,"hours":10,"utc":true},"type":"temporal","scale":{"type":"utc","domain":[{"year":2022,"month":6,"date":7,"hours":18,"utc":true},{"year":2024,"month":4,"date":12,"hours":15,"minutes":36,"utc":true}]},"axis":null},
"y":{"datum":683,"type":"quantitative","scale":{"domain":[298,688],"nice":false,"zero":false},"axis":null},"text":{"value":"−0.55 (−0.10%)"}}},
{"mark":{"type":"text","color":"#131722","fontSize":7,"align":"left","baseline":"middle","font":"Roboto"},
"encoding":{"x":{"datum":{"year":2022,"month":6,"date":10,"hours":15,"minutes":48,"utc":true},"type":"temporal","scale":{"type":"utc","domain":[{"year":2022,"month":6,"date":7,"hours":18,"utc":true},{"year":2024,"month":4,"date":12,"hours":15,"minutes":36,"utc":true}]},"axis":null},
"y":{"datum":676,"type":"quantitative","scale":{"domain":[298,688],"nice":false,"zero":false},"axis":null},"text":{"value":"Объём"}}},
{"mark":{"type":"text","color":"#f23645","fontSize":7,"align":"left","baseline":"middle","font":"Roboto"},
"encoding":{"x":{"datum":{"year":2022,"month":7,"date":2,"hours":18,"minutes":24,"utc":true},"type":"temporal","scale":{"type":"utc","domain":[{"year":2022,"month":6,"date":7,"hours":18,"utc":true},{"year":2024,"month":4,"date":12,"hours":15,"minutes":36,"utc":true}]},"axis":null},
"y":{"datum":676,"type":"quantitative","scale":{"domain":[298,688],"nice":false,"zero":false},"axis":null},"text":{"value":"2.356M"}}},
{"mark":{"type":"text","color":"#131722","fontSize":7,"align":"left","baseline":"middle","font":"Roboto"},
"encoding":{"x":{"datum":{"year":2022,"month":6,"date":10,"hours":15,"minutes":48,"utc":true},"type":"temporal","scale":{"type":"utc","domain":[{"year":2022,"month":6,"date":7,"hours":18,"utc":true},{"year":2024,"month":4,"date":12,"hours":15,"minutes":36,"utc":true}]},"axis":null},
"y":{"datum":669,"type":"quantitative","scale":{"domain":[298,688],"nice":false,"zero":false},"axis":null},"text":{"value":"SMA (50, close)"}}},
{"mark":{"type":"text","color":"#089981","fontSize":7,"align":"left","baseline":"middle","font":"Roboto"},
"encoding":{"x":{"datum":{"year":2022,"month":7,"date":10,"hours":21,"minutes":54,"utc":true},"type":"temporal","scale":{"type":"utc","domain":[{"year":2022,"month":6,"date":7,"hours":18,"utc":true},{"year":2024,"month":4,"date":12,"hours":15,"minutes":36,"utc":true}]},"axis":null},
"y":{"datum":669,"type":"quantitative","scale":{"domain":[298,688],"nice":false,"zero":false},"axis":null},"text":{"value":"583.41"}}},
{"mark":{"type":"text","color":"#131722","fontSize":7,"align":"left","baseline":"middle","font":"Roboto"},
"encoding":{"x":{"datum":{"year":2022,"month":6,"date":10,"hours":15,"minutes":48,"utc":true},"type":"temporal","scale":{"type":"utc","domain":[{"year":2022,"month":6,"date":7,"hours":18,"utc":true},{"year":2024,"month":4,"date":12,"hours":15,"minutes":36,"utc":true}]},"axis":null},
"y":{"datum":662,"type":"quantitative","scale":{"domain":[298,688],"nice":false,"zero":false},"axis":null},"text":{"value":"SMA (200, close)"}}},
{"mark":{"type":"text","color":"#f23645","fontSize":7,"align":"left","baseline":"middle","font":"Roboto"},
"encoding":{"x":{"datum":{"year":2022,"month":7,"date":12,"hours":15,"minutes":48,"utc":true},"type":"temporal","scale":{"type":"utc","domain":[{"year":2022,"month":6,"date":7,"hours":18,"utc":true},{"year":2024,"month":4,"date":12,"hours":15,"minutes":36,"utc":true}]},"axis":null},
"y":{"datum":662,"type":"quantitative","scale":{"domain":[298,688],"nice":false,"zero":false},"axis":null},"text":{"value":"544.18"}}},
{"mark":{"type":"text","color":"#131722","fontSize":9,"fontWeight":"bold","align":"left","baseline":"middle","font":"Roboto"},
"encoding":{"x":{"datum":{"year":2022,"month":6,"date":10,"hours":1,"minutes":50,"utc":true},"type":"temporal","scale":{"type":"utc","domain":[{"year":2022,"month":6,"date":7,"hours":18,"utc":true},{"year":2024,"month":4,"date":12,"hours":15,"minutes":36,"utc":true}]},"axis":null},
"y":{"datum":283.3,"type":"quantitative","scale":{"domain":[298,688],"nice":false,"zero":false},"axis":null},"text":{"value":"TV"}}},
{"mark":{"type":"text","color":"#131722","fontSize":8,"align":"left","baseline":"middle","font":"Roboto"},
"encoding":{"x":{"datum":{"year":2022,"month":6,"date":17,"hours":15,"minutes":24,"utc":true},"type":"temporal","scale":{"type":"utc","domain":[{"year":2022,"month":6,"date":7,"hours":18,"utc":true},{"year":2024,"month":4,"date":12,"hours":15,"minutes":36,"utc":true}]},"axis":null},
"y":{"datum":283.3,"type":"quantitative","scale":{"domain":[298,688],"nice":false,"zero":false},"axis":null},"text":{"value":"TradingView"}}}
]
}
]
}
],
"resolve":{"scale":{"x":"independent","y":"independent"}}
}
